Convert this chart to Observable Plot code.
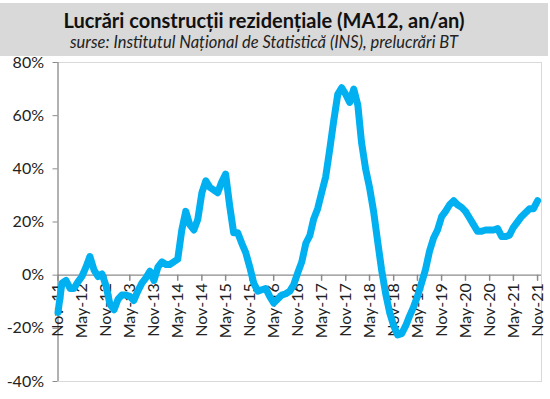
<!DOCTYPE html>
<html><head><meta charset="utf-8">
<script src="https://cdn.jsdelivr.net/npm/d3@7"></script>
<script src="https://cdn.jsdelivr.net/npm/@observablehq/plot@0.6"></script>
<style>
body{margin:0;background:#fff;font-family:Lato,"Open Sans",sans-serif;}
#head{margin-top:3px;height:53px;background:#d9d9d9;text-align:center;padding-right:20px;box-sizing:border-box;width:548px}
#t{font-weight:bold;font-size:20px;color:#111;padding-top:5px;line-height:24px}
#s{font-style:italic;font-size:16.5px;color:#222;line-height:21px}
#chart{margin-top:1px}
#chart svg{overflow:visible;display:block}
</style></head><body>
<div id="head"><div id="t">Lucrări construcții rezidențiale (MA12, an/an)</div><div id="s">surse: Institutul Național de Statistică (INS), prelucrări BT</div></div>
<div id="chart"></div>
<script>
// first month of the series (Nov 2011), monthly
const startMonth = new Date(Date.UTC(2011, 10, 1));
const endDomain = new Date(Date.UTC(2021, 11, 1));
const values = [
 -14, -3, -2, -5, -5, -2.5, -0.5, 3, 7, 2, -0.5, 0.5,
 -4, -11, -13, -9, -7.5, -7.5, -8, -9.5, -6, -3, -1, 1.5,
 -2, 3, 5, 4, 4, 5, 6, 17, 24, 19, 17, 21,
 31, 35.5, 33, 32, 31, 35, 38, 26, 16, 16, 12, 8.5,
 3, -3, -6, -5.5, -5, -8, -10.5, -9, -7.5, -7, -6, -3.5,
 1, 5, 12, 15, 21, 25, 31, 37, 47, 58, 68, 70.5,
 68, 65, 70, 64, 50, 40, 33, 24, 13, 2, -7, -14,
 -19, -22.5, -22, -19, -15.5, -12, -8, -3, 2, 9, 14, 17,
 22, 24, 26.5, 28, 26.5, 25.5, 24, 21.5, 19, 16.5, 16.5, 17,
 17, 17, 17.5, 14.5, 14.5, 15, 18, 20, 22, 23.5, 25, 25,
 28
];
const tickLabels = ["Nov-11","May-12","Nov-12","May-13","Nov-13","May-14","Nov-14","May-15","Nov-15","May-16","Nov-16","May-17","Nov-17","May-18","Nov-18","May-19","Nov-19","May-20","Nov-20","May-21","Nov-21"];
const yTicks = [-40, -20, 0, 20, 40, 60, 80];

const month = i => d3.utcMonth.offset(startMonth, i);
const tickDate = i => d3.utcMonth.offset(startMonth, i * 6);
const series = values.map((v, i) => ({date: month(i), value: v}));

const axisGray = "#8c8c8c";
const tickShape = {draw(context, l) { context.moveTo(0, 0); context.lineTo(0, -l); }};

const chart = Plot.plot({
  width: 550,
  height: 342,
  marginLeft: 57.5,
  marginRight: 9,
  marginTop: 5,
  marginBottom: 18,
  style: {fontFamily: "Lato, 'Open Sans', sans-serif", fontSize: "16px", color: "#222", background: "transparent"},
  x: {type: "utc", domain: [startMonth, endDomain], axis: null},
  y: {domain: [-40, 80]},
  marks: [
    Plot.frame({stroke: "#d9d9d9"}),
    Plot.axisY(yTicks, {tickFormat: d => d + "%", tickSize: 5, tickPadding: 9, stroke: axisGray, fill: "#222", fontSize: 16, label: null}),
    Plot.ruleX([startMonth], {stroke: axisGray, strokeWidth: 1.2}),
    Plot.ruleY([0], {stroke: axisGray, strokeWidth: 1.2}),
    Plot.vector(tickLabels, {x: (d, i) => tickDate(i), y: () => 0, length: 5, rotate: 180, anchor: "start", stroke: axisGray, shape: tickShape}),
    Plot.text(tickLabels, {x: (d, i) => tickDate(i), y: () => 0, text: d => d, rotate: -90, textAnchor: "end", dy: 8, fontSize: 16, fill: "#222"}),
    Plot.line(series, {x: "date", y: "value", stroke: "#00b0f0", strokeWidth: 7, strokeLinejoin: "round", strokeLinecap: "round"})
  ]
});
document.getElementById("chart").appendChild(chart);
</script>
</body></html>
